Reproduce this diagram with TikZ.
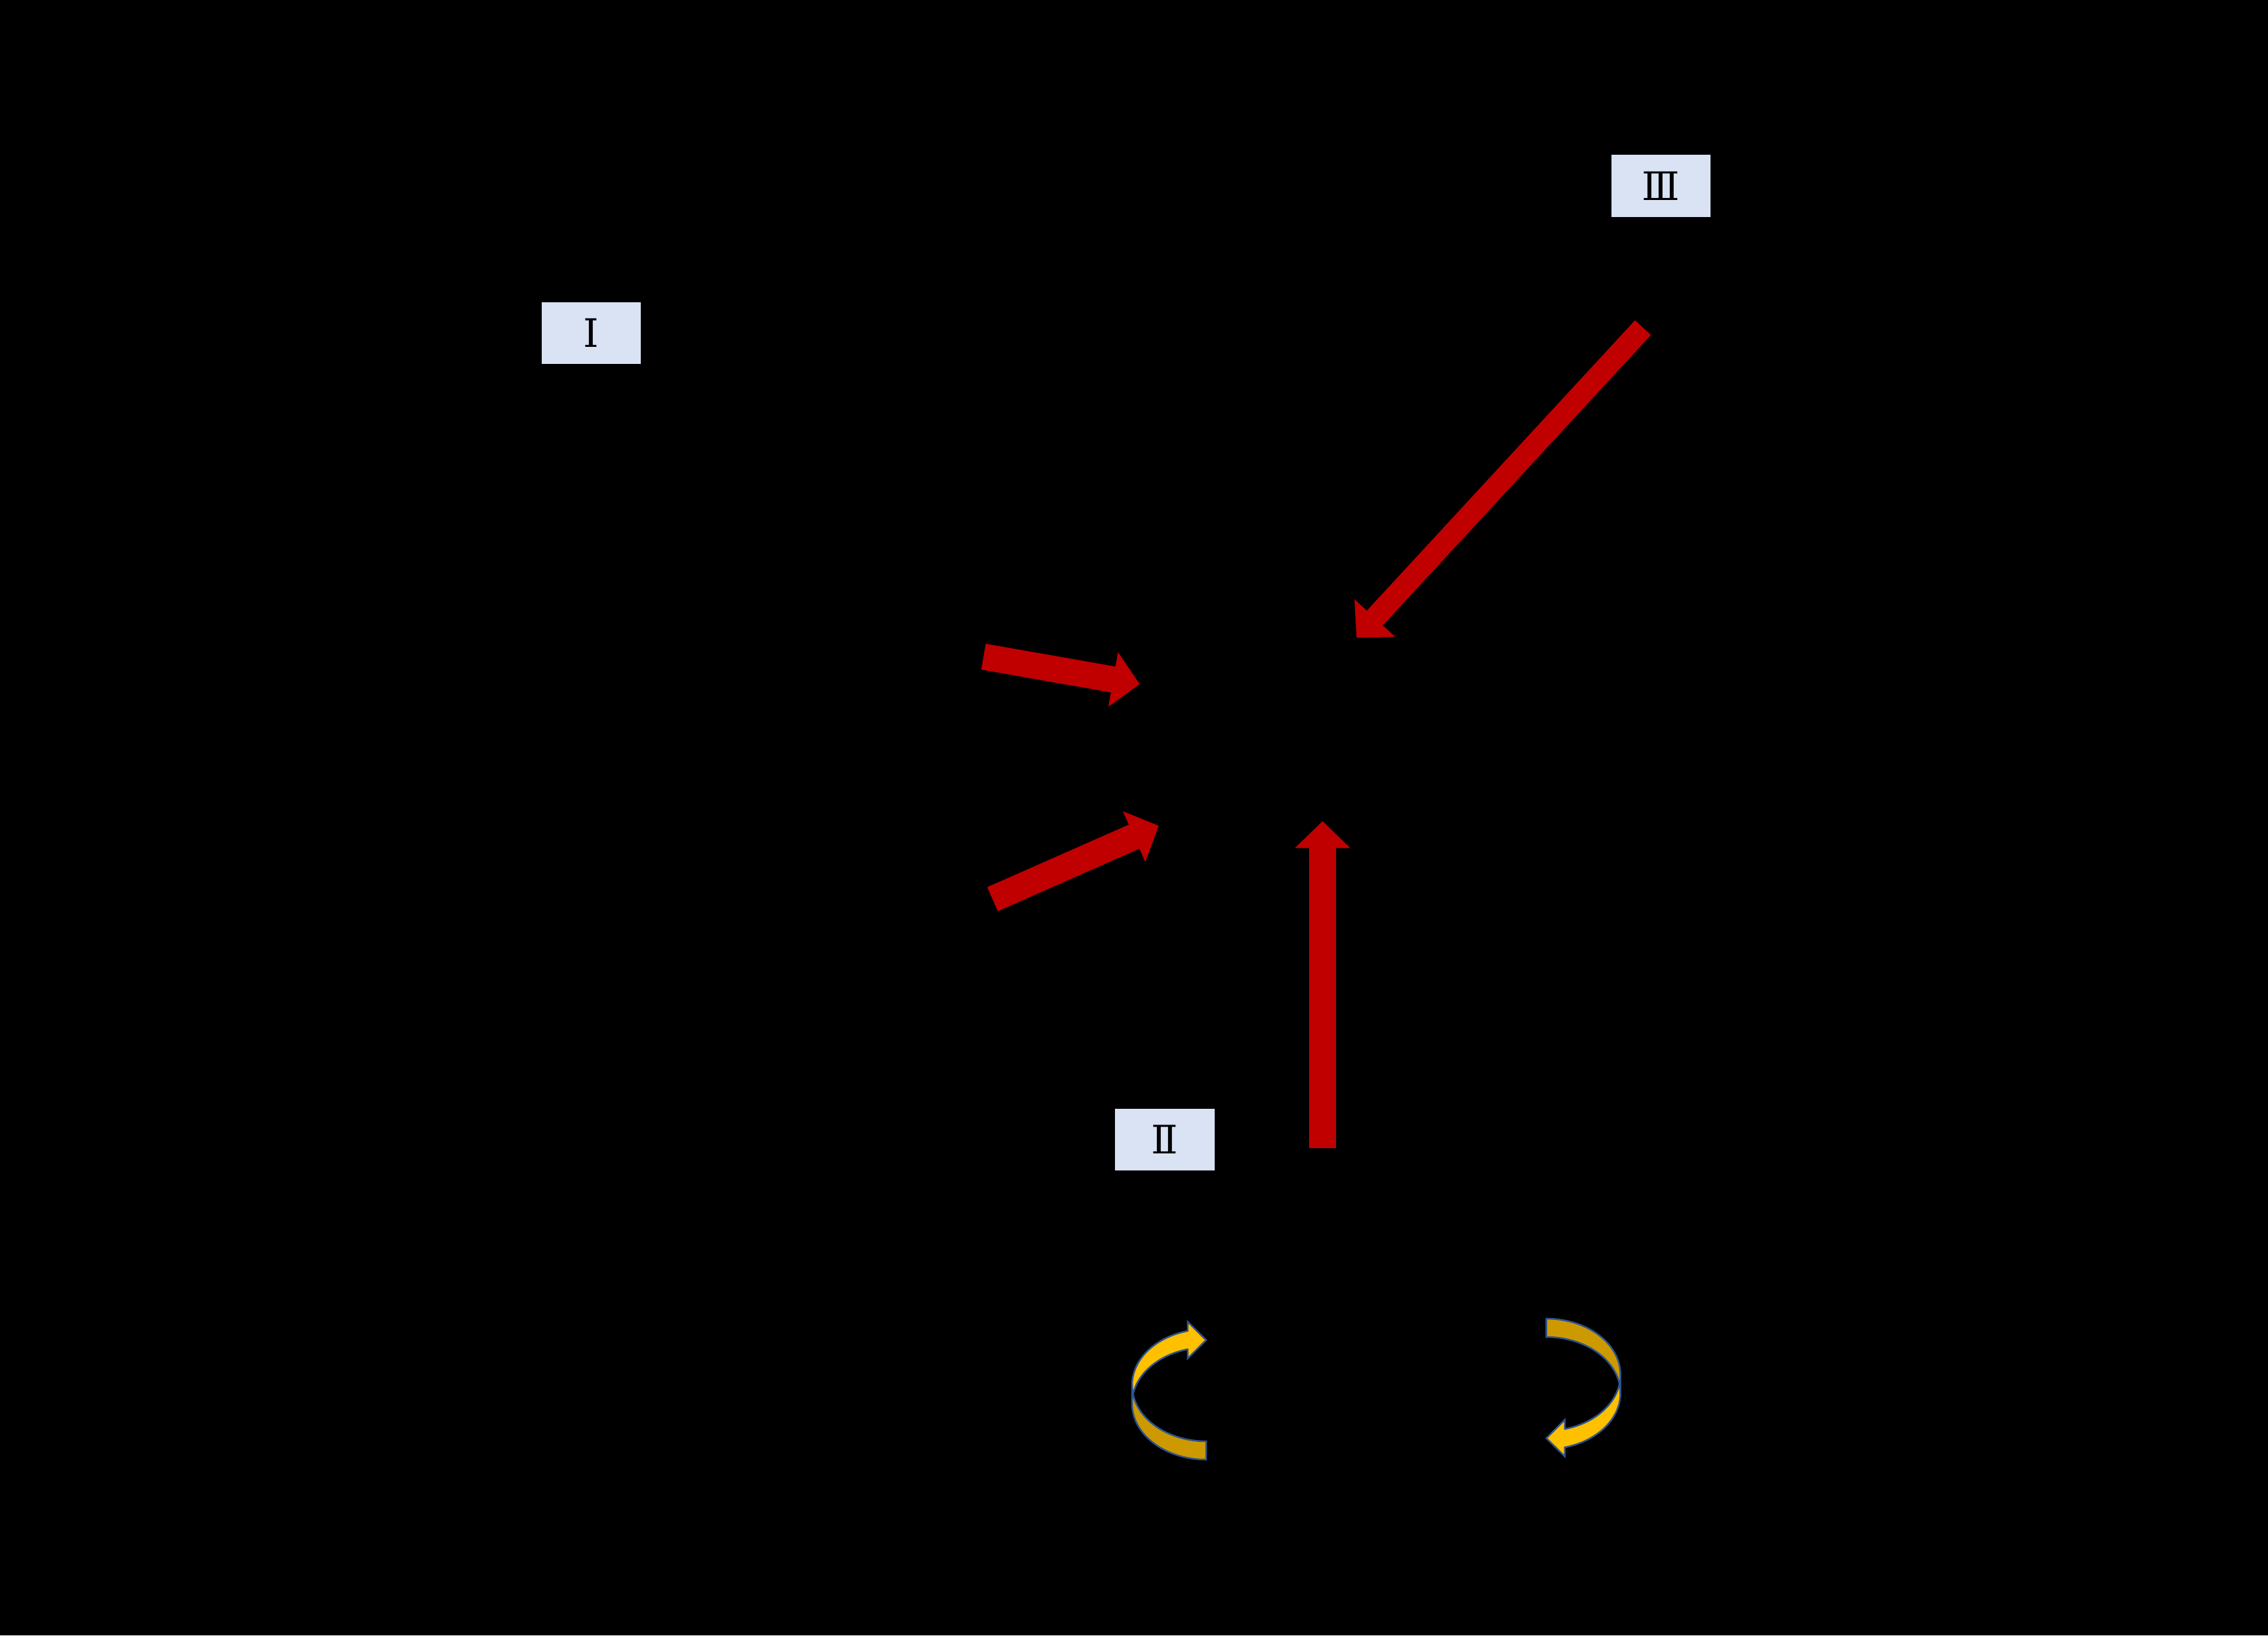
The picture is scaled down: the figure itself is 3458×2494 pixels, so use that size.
\documentclass[tikz,border=0pt]{standalone}
\usepackage{fontspec}
\newfontfamily\numfont{DejaVu Serif}
\usetikzlibrary{arrows.meta}
\definecolor{arrowred}{HTML}{C00000}
\definecolor{labelfill}{HTML}{DAE3F3}
\definecolor{ygold}{HTML}{FFC000}
\definecolor{ydark}{HTML}{CC9A00}
\definecolor{youtline}{HTML}{2F528F}
\newcommand{\goldarrow}{%
  \filldraw[fill=ygold, draw=youtline, line width=0.025cm, line join=miter]
    plot[domain=180:255.52, samples=40] ({113*cos(\x)}, {-14+85.5*sin(\x)})
    -- (-28.25,-110.9) -- (0,-82.78) -- (-28.25,-54.66) -- (-28.25,-68.78)
    -- plot[domain=255.52:180, samples=40] ({113*cos(\x)}, {14+85.5*sin(\x)})
    -- cycle;
  \filldraw[fill=ydark, draw=youtline, line width=0.025cm, line join=miter]
    plot[domain=180:90, samples=40] ({113*cos(\x)}, {14+85.5*sin(\x)})
    -- (0,71.5)
    -- plot[domain=90:180, samples=40] ({113*cos(\x)}, {-14+85.5*sin(\x)})
    -- cycle;
}
\begin{document}
\begin{tikzpicture}[x=0.01cm,y=-0.01cm,
  labelbox/.style={fill=labelfill, draw=none, minimum width=1.51cm, minimum height=0.94cm,
    inner sep=0pt, font=\numfont\fontsize{17}{17}\selectfont, text=black},
  redarrow/.style={draw=arrowred, line width=0.40cm, line cap=butt,
    -{Triangle[length=0.41cm,width=0.82cm]}},
]
\fill[black] (0,0) rectangle (3458,2494);
\useasboundingbox (0,0) rectangle (3458,2494);

% labels
\node[labelbox] (lI) at (901.5,508) {Ⅰ};
\node[labelbox] (lII) at (1776,1738) {Ⅱ};
\node[labelbox] (lIII) at (2532.5,283.5) {Ⅲ};

% red arrows
\coordinate (aAs) at (1499.5,1001.5);
\coordinate (aAe) at (1737.7,1043.3);
\coordinate (aBs) at (1513.3,1371.3);
\coordinate (aBe) at (1766.7,1259.3);
\coordinate (aCs) at (2505,499.7);
\coordinate (aCe) at (2068.3,972.7);
\coordinate (aDs) at (2016.5,1751);
\coordinate (aDe) at (2016.5,1252.3);
\draw[redarrow] (aAs) -- (aAe);
\draw[redarrow] (aBs) -- (aBe);
\draw[redarrow, line width=0.33cm] (aCs) -- (aCe);
\draw[redarrow, line width=0.41cm] (aDs) -- (aDe);

% curved gold arrows
\begin{scope}[shift={(1839,2126.5)}]
  \goldarrow
\end{scope}
\begin{scope}[shift={(2357.7,2110.5)}, rotate=180]
  \goldarrow
\end{scope}
\end{tikzpicture}
\end{document}
